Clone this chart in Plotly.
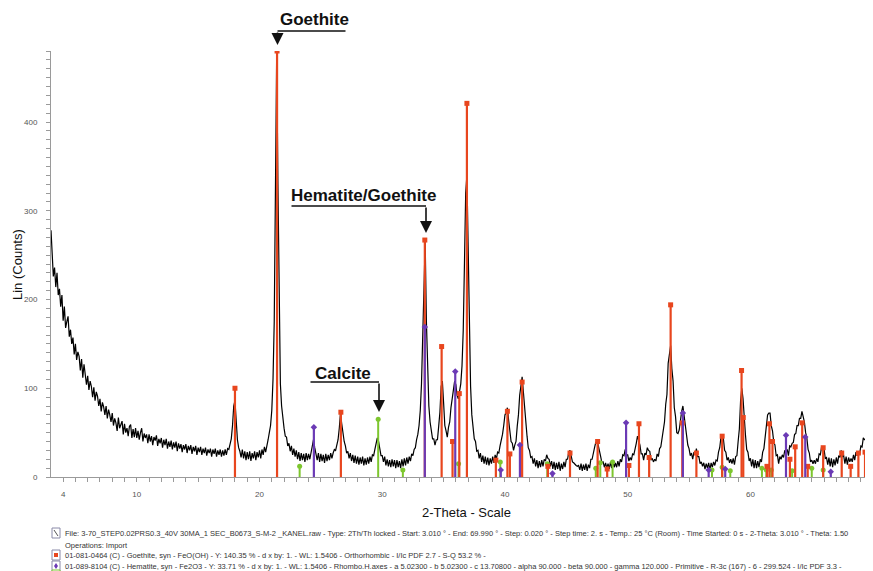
import plotly.graph_objects as go

# ---------------- data ----------------
two_theta = [
    3.01, 3.1, 3.2, 3.3, 3.4, 3.5, 3.6, 3.7, 3.8, 3.9,
    4.0, 4.1, 4.2, 4.3, 4.4, 4.5, 4.6, 4.7, 4.8, 4.9,
    5.0, 5.1, 5.2, 5.3, 5.4, 5.5, 5.6, 5.7, 5.8, 5.9,
    6.0, 6.1, 6.2, 6.3, 6.4, 6.5, 6.6, 6.7, 6.8, 6.9,
    7.0, 7.1, 7.2, 7.3, 7.4, 7.5, 7.6, 7.7, 7.8, 7.9,
    8.0, 8.1, 8.2, 8.3, 8.4, 8.5, 8.6, 8.7, 8.8, 8.9,
    9.0, 9.1, 9.2, 9.3, 9.4, 9.5, 9.6, 9.7, 9.8, 9.9,
    10.0, 10.1, 10.2, 10.3, 10.4, 10.5, 10.6, 10.7, 10.8, 10.9,
    11.0, 11.1, 11.2, 11.3, 11.4, 11.5, 11.6, 11.7, 11.8, 11.9,
    12.0, 12.1, 12.2, 12.3, 12.4, 12.5, 12.6, 12.7, 12.8, 12.9,
    13.0, 13.1, 13.2, 13.3, 13.4, 13.5, 13.6, 13.7, 13.8, 13.9,
    14.0, 14.1, 14.2, 14.3, 14.4, 14.5, 14.6, 14.7, 14.8, 14.9,
    15.0, 15.1, 15.2, 15.3, 15.4, 15.5, 15.6, 15.7, 15.8, 15.9,
    16.0, 16.1, 16.2, 16.3, 16.4, 16.5, 16.6, 16.7, 16.8, 16.9,
    17.0, 17.1, 17.2, 17.3, 17.4, 17.5, 17.6, 17.7, 17.8, 17.9,
    18.0, 18.1, 18.2, 18.3, 18.4, 18.5, 18.6, 18.7, 18.8, 18.9,
    19.0, 19.1, 19.2, 19.3, 19.4, 19.5, 19.6, 19.7, 19.8, 19.9,
    20.0, 20.1, 20.2, 20.3, 20.4, 20.5, 20.6, 20.7, 20.8, 20.9,
    21.0, 21.1, 21.2, 21.3, 21.4, 21.5, 21.6, 21.7, 21.8, 21.9,
    22.0, 22.1, 22.2, 22.3, 22.4, 22.5, 22.6, 22.7, 22.8, 22.9,
    23.0, 23.1, 23.2, 23.3, 23.4, 23.5, 23.6, 23.7, 23.8, 23.9,
    24.0, 24.1, 24.2, 24.3, 24.4, 24.5, 24.6, 24.7, 24.8, 24.9,
    25.0, 25.1, 25.2, 25.3, 25.4, 25.5, 25.6, 25.7, 25.8, 25.9,
    26.0, 26.1, 26.2, 26.3, 26.4, 26.5, 26.6, 26.7, 26.8, 26.9,
    27.0, 27.1, 27.2, 27.3, 27.4, 27.5, 27.6, 27.7, 27.8, 27.9,
    28.0, 28.1, 28.2, 28.3, 28.4, 28.5, 28.6, 28.7, 28.8, 28.9,
    29.0, 29.1, 29.2, 29.3, 29.4, 29.5, 29.6, 29.7, 29.8, 29.9,
    30.0, 30.1, 30.2, 30.3, 30.4, 30.5, 30.6, 30.7, 30.8, 30.9,
    31.0, 31.1, 31.2, 31.3, 31.4, 31.5, 31.6, 31.7, 31.8, 31.9,
    32.0, 32.1, 32.2, 32.3, 32.4, 32.5, 32.6, 32.7, 32.8, 32.9,
    33.0, 33.1, 33.2, 33.3, 33.4, 33.5, 33.6, 33.7, 33.8, 33.9,
    34.0, 34.1, 34.2, 34.3, 34.4, 34.5, 34.6, 34.7, 34.8, 34.9,
    35.0, 35.1, 35.2, 35.3, 35.4, 35.5, 35.6, 35.7, 35.8, 35.9,
    36.0, 36.1, 36.2, 36.3, 36.4, 36.5, 36.6, 36.7, 36.8, 36.9,
    37.0, 37.1, 37.2, 37.3, 37.4, 37.5, 37.6, 37.7, 37.8, 37.9,
    38.0, 38.1, 38.2, 38.3, 38.4, 38.5, 38.6, 38.7, 38.8, 38.9,
    39.0, 39.1, 39.2, 39.3, 39.4, 39.5, 39.6, 39.7, 39.8, 39.9,
    40.0, 40.1, 40.2, 40.3, 40.4, 40.5, 40.6, 40.7, 40.8, 40.9,
    41.0, 41.1, 41.2, 41.3, 41.4, 41.5, 41.6, 41.7, 41.8, 41.9,
    42.0, 42.1, 42.2, 42.3, 42.4, 42.5, 42.6, 42.7, 42.8, 42.9,
    43.0, 43.1, 43.2, 43.3, 43.4, 43.5, 43.6, 43.7, 43.8, 43.9,
    44.0, 44.1, 44.2, 44.3, 44.4, 44.5, 44.6, 44.7, 44.8, 44.9,
    45.0, 45.1, 45.2, 45.3, 45.4, 45.5, 45.6, 45.7, 45.8, 45.9,
    46.0, 46.1, 46.2, 46.3, 46.4, 46.5, 46.6, 46.7, 46.8, 46.9,
    47.0, 47.1, 47.2, 47.3, 47.4, 47.5, 47.6, 47.7, 47.8, 47.9,
    48.0, 48.1, 48.2, 48.3, 48.4, 48.5, 48.6, 48.7, 48.8, 48.9,
    49.0, 49.1, 49.2, 49.3, 49.4, 49.5, 49.6, 49.7, 49.8, 49.9,
    50.0, 50.1, 50.2, 50.3, 50.4, 50.5, 50.6, 50.7, 50.8, 50.9,
    51.0, 51.1, 51.2, 51.3, 51.4, 51.5, 51.6, 51.7, 51.8, 51.9,
    52.0, 52.1, 52.2, 52.3, 52.4, 52.5, 52.6, 52.7, 52.8, 52.9,
    53.0, 53.1, 53.2, 53.3, 53.4, 53.5, 53.6, 53.7, 53.8, 53.9,
    54.0, 54.1, 54.2, 54.3, 54.4, 54.5, 54.6, 54.7, 54.8, 54.9,
    55.0, 55.1, 55.2, 55.3, 55.4, 55.5, 55.6, 55.7, 55.8, 55.9,
    56.0, 56.1, 56.2, 56.3, 56.4, 56.5, 56.6, 56.7, 56.8, 56.9,
    57.0, 57.1, 57.2, 57.3, 57.4, 57.5, 57.6, 57.7, 57.8, 57.9,
    58.0, 58.1, 58.2, 58.3, 58.4, 58.5, 58.6, 58.7, 58.8, 58.9,
    59.0, 59.1, 59.2, 59.3, 59.4, 59.5, 59.6, 59.7, 59.8, 59.9,
    60.0, 60.1, 60.2, 60.3, 60.4, 60.5, 60.6, 60.7, 60.8, 60.9,
    61.0, 61.1, 61.2, 61.3, 61.4, 61.5, 61.6, 61.7, 61.8, 61.9,
    62.0, 62.1, 62.2, 62.3, 62.4, 62.5, 62.6, 62.7, 62.8, 62.9,
    63.0, 63.1, 63.2, 63.3, 63.4, 63.5, 63.6, 63.7, 63.8, 63.9,
    64.0, 64.1, 64.2, 64.3, 64.4, 64.5, 64.6, 64.7, 64.8, 64.9,
    65.0, 65.1, 65.2, 65.3, 65.4, 65.5, 65.6, 65.7, 65.8, 65.9,
    66.0, 66.1, 66.2, 66.3, 66.4, 66.5, 66.6, 66.7, 66.8, 66.9,
    67.0, 67.1, 67.2, 67.3, 67.4, 67.5, 67.6, 67.7, 67.8, 67.9,
    68.0, 68.1, 68.2, 68.3, 68.4, 68.5, 68.6, 68.7, 68.8, 68.9,
    69.0, 69.1, 69.2, 69.3, 69.4, 69.5, 69.6, 69.7, 69.8, 69.9,
    69.99,
]
counts = [
    278, 250, 226, 236, 214, 230, 205, 212, 192, 205,
    176, 192, 168, 175, 181, 158, 166, 150, 157, 138,
    150, 132, 141, 136, 120, 133, 112, 127, 118, 104,
    114, 98, 108, 102, 90, 101, 86, 96, 91, 80,
    88, 74, 84, 79, 70, 80, 66, 76, 70, 62,
    72, 58, 66, 61, 52, 67, 55, 60, 63, 48,
    60, 50, 55, 46, 57, 59, 44, 54, 45, 55,
    44, 52, 42, 50, 55, 40, 49, 44, 48, 38,
    48, 40, 46, 36, 45, 41, 47, 35, 43, 38,
    44, 33, 42, 36, 43, 32, 40, 34, 41, 31,
    39, 33, 40, 29, 38, 32, 37, 28, 36, 31,
    37, 27, 35, 30, 36, 26, 34, 29, 35, 25,
    33, 28, 34, 25, 32, 27, 33, 24, 31, 27,
    32, 23, 31, 26, 32, 23, 30, 25, 31, 23,
    30, 24, 31, 25, 32, 31, 37, 43, 58, 80,
    86, 60, 42, 33, 29, 22, 31, 21, 29, 19,
    28, 20, 29, 18, 27, 21, 29, 19, 28, 22,
    30, 21, 31, 25, 34, 28, 38, 42, 50, 58,
    75, 110, 175, 300, 478, 330, 175, 105, 80, 64,
    55, 46, 45, 35, 38, 29, 35, 25, 32, 23,
    30, 20, 28, 18, 27, 19, 26, 17, 27, 19,
    26, 20, 29, 34, 42, 33, 27, 19, 27, 17,
    26, 18, 25, 16, 26, 18, 25, 19, 27, 21,
    27, 31, 30, 36, 42, 55, 72, 60, 46, 40,
    35, 27, 29, 21, 27, 18, 25, 16, 24, 15,
    23, 14, 22, 15, 23, 13, 21, 14, 22, 15,
    23, 17, 25, 24, 31, 36, 44, 40, 31, 24,
    24, 17, 23, 13, 20, 12, 19, 11, 20, 12,
    19, 10, 19, 11, 18, 10, 20, 12, 21, 13,
    22, 15, 23, 18, 26, 24, 31, 33, 42, 48,
    58, 75, 105, 160, 235, 265, 175, 110, 80, 62,
    54, 43, 43, 36, 42, 42, 57, 73, 102, 108,
    84, 58, 52, 45, 56, 62, 78, 88, 104, 108,
    104, 92, 88, 95, 105, 125, 165, 240, 320, 340,
    260, 160, 102, 70, 58, 43, 40, 29, 30, 21,
    27, 17, 24, 15, 23, 14, 22, 13, 21, 15,
    23, 16, 25, 20, 28, 27, 35, 40, 48, 58,
    70, 73, 78, 64, 54, 40, 38, 30, 36, 40,
    57, 70, 92, 103, 113, 96, 78, 56, 46, 33,
    30, 22, 23, 15, 21, 12, 19, 10, 18, 11,
    19, 12, 20, 18, 25, 21, 20, 12, 18, 9,
    17, 8, 16, 9, 17, 7, 15, 9, 17, 11,
    20, 20, 28, 30, 25, 17, 16, 14, 13, 12,
    13, 8, 15, 7, 14, 8, 15, 7, 14, 10,
    20, 20, 28, 33, 39, 40, 36, 27, 23, 16,
    17, 11, 16, 10, 15, 9, 17, 10, 18, 11,
    16, 11, 18, 12, 20, 17, 25, 24, 31, 25,
    25, 18, 22, 19, 26, 25, 34, 38, 46, 41,
    36, 26, 26, 19, 27, 25, 33, 30, 29, 19,
    21, 17, 20, 18, 26, 23, 32, 34, 43, 48,
    62, 82, 93, 128, 136, 148, 122, 108, 78, 68,
    50, 49, 53, 68, 74, 80, 68, 60, 42, 36,
    32, 24, 27, 20, 28, 25, 32, 23, 23, 15,
    17, 12, 16, 9, 15, 10, 16, 8, 16, 11,
    17, 13, 19, 18, 28, 33, 45, 48, 43, 30,
    28, 19, 22, 16, 20, 15, 21, 14, 23, 24,
    40, 54, 86, 100, 88, 62, 47, 31, 28, 18,
    21, 12, 20, 10, 19, 10, 18, 11, 20, 17,
    28, 32, 47, 56, 70, 72, 72, 58, 52, 40,
    36, 24, 25, 15, 23, 20, 25, 22, 30, 28,
    31, 24, 35, 34, 38, 39, 48, 49, 58, 58,
    66, 66, 74, 68, 62, 50, 44, 31, 27, 17,
    19, 15, 19, 15, 21, 17, 26, 25, 34, 31,
    32, 21, 22, 14, 22, 12, 21, 11, 20, 13,
    22, 15, 24, 22, 30, 23, 24, 15, 23, 14,
    22, 17, 21, 17, 25, 19, 28, 24, 29, 26,
    35, 34, 44, 42, 42, 31, 31, 23, 26, 21,
    22,
]

goethite_pos = [18.0, 21.43, 26.63, 33.47, 34.84, 35.73, 36.28, 36.9, 39.26, 40.2, 40.4, 41.4, 43.5,
                45.3, 47.55, 48.33, 50.1, 50.92, 51.75, 53.5, 54.45, 55.6, 57.7, 59.28, 59.42, 61.35,
                61.55, 61.8, 63.22, 63.65, 64.22, 64.67, 65.93, 67.44, 68.17, 68.8, 69.34]
goethite_h = [100, 480, 73, 267, 147, 40, 94, 421, 19, 74, 26, 107, 12,
              27, 40, 9, 13, 60, 22, 194, 61, 27, 46, 120, 67, 12,
              60, 40, 20, 34, 61, 12, 33, 27, 12, 27, 28]

hematite_pos = [24.43, 33.47, 35.95, 39.66, 41.22, 43.87, 49.87, 54.5, 56.6, 57.95, 62.9, 64.47, 66.55]
hematite_h = [56, 169, 119, 8, 36, 4, 61, 72, 8, 9, 47, 45, 6]

calcite_pos = [23.27, 29.67, 31.68, 36.22, 39.62, 43.45, 47.4, 47.77, 48.77, 56.87, 57.7, 58.36,
               60.94, 61.3, 61.7, 63.4, 65.0, 65.93, 69.5]
calcite_h = [12, 65, 8, 15, 17, 15, 10, 16, 17, 8, 11, 7, 10, 8, 8, 7, 10, 8, 7]

x_tick_values = [4, 10, 20, 30, 40, 50, 60]
y_tick_values = [0, 100, 200, 300, 400]

footer_lines = [
    "File: 3-70_STEP0.02PRS0.3_40V 30MA_1 SEC_B0673_S-M-2 _KANEL.raw - Type: 2Th/Th locked - Start: 3.010 ° - End: 69.990 ° - Step: 0.020 ° - Step time: 2. s - Temp.: 25 °C (Room) - Time Started: 0 s - 2-Theta: 3.010 ° - Theta: 1.50",
    "Operations: Import",
    "01-081-0464 (C) - Goethite, syn - FeO(OH) - Y: 140.35 % - d x by: 1. - WL: 1.5406 - Orthorhombic - I/Ic PDF 2.7 - S-Q 53.2 % -",
    "01-089-8104 (C) - Hematite, syn - Fe2O3 - Y: 33.71 % - d x by: 1. - WL: 1.5406 - Rhombo.H.axes - a 5.02300 - b 5.02300 - c 13.70800 - alpha 90.000 - beta 90.000 - gamma 120.000 - Primitive - R-3c (167) - 6 - 299.524 - I/Ic PDF 3.3 -",
]

# ---------------- figure ----------------
RED = "#E8461E"
PURPLE = "#6B3AB5"
GREEN = "#7DC62E"
FONT = "Arial, Liberation Sans, sans-serif"

# page has an 8px body margin; plot area in page pixels: x 51..873, y 51..477
W, H = 865, 563
ML, MR, MT, MB = 43, 0, 43, 94
PL, PR, PT, PB = 51, 873, 51, 477


def px(xp):
    return (xp - PL) / (PR - PL)


def py(yp):
    return (PB - yp) / (PB - PT)


def sticks(pos, hts):
    xs, ys = [], []
    for p, h in zip(pos, hts):
        xs += [p, p, None]
        ys += [0, h, None]
    return xs, ys


fig = go.Figure()

fig.add_trace(go.Scatter(x=two_theta, y=counts, mode="lines",
                         line=dict(color="black", width=1.2), hoverinfo="skip"))

for pos, hts, col, wid, sym, size in [
    (calcite_pos, calcite_h, GREEN, 2, "circle", 5),
    (goethite_pos, goethite_h, RED, 2.2, "square", 5),
    (hematite_pos, hematite_h, PURPLE, 2.2, "diamond", 5),
]:
    xs, ys = sticks(pos, hts)
    fig.add_trace(go.Scatter(x=xs, y=ys, mode="lines", line=dict(color=col, width=wid),
                             hoverinfo="skip"))
    fig.add_trace(go.Scatter(x=pos, y=hts, mode="markers",
                             marker=dict(color=col, symbol=sym, size=size), hoverinfo="skip"))

annotations = []

# labelled elbow arrows, positions in page pixels:
# (label, text x, text y, arrow x, line y, tip y, line start x)
for label, tx, ty, ax_, ly, tipy, lx0 in [
    ("Goethite", 314, 20, 277.5, 31, 45, 347),
    ("Hematite/Goethite", 363, 195, 426, 206, 233, 290),
    ("Calcite", 343, 373, 379, 382, 412, 309),
]:
    annotations.append(dict(x=px(tx), y=py(ty), xref="paper", yref="paper",
                            text="<b>%s</b>" % label, showarrow=False,
                            xanchor="center", yanchor="middle",
                            font=dict(family=FONT, size=17, color="#111")))
    annotations.append(dict(x=px(ax_), y=py(ly), xref="paper", yref="paper",
                            ax=lx0 - ax_, ay=0, text="", showarrow=True, arrowhead=0,
                            arrowwidth=1.6, arrowcolor="#111", standoff=0, startstandoff=0))
    annotations.append(dict(x=px(ax_), y=py(tipy), xref="paper", yref="paper",
                            ax=0, ay=ly - tipy, text="", showarrow=True, arrowhead=2,
                            arrowsize=1.5, arrowwidth=1.6, arrowcolor="#111",
                            standoff=0, startstandoff=0))

# axis titles
annotations.append(dict(x=px(17), y=py(265), xref="paper", yref="paper", text="Lin (Counts)",
                        textangle=-90, showarrow=False, xanchor="center", yanchor="middle",
                        font=dict(family=FONT, size=13, color="#111")))
annotations.append(dict(x=px(466), y=py(512), xref="paper", yref="paper", text="2-Theta - Scale",
                        showarrow=False, xanchor="center", yanchor="middle",
                        font=dict(family=FONT, size=13, color="#111")))

# footer lines
for txt, xp, yp in [
    (footer_lines[0], 63, 533),
    (footer_lines[1], 63, 545),
    (footer_lines[2], 63, 555),
    (footer_lines[3], 63, 566),
]:
    annotations.append(dict(x=px(xp), y=py(yp), xref="paper", yref="paper", text=txt,
                            xanchor="left", yanchor="middle", showarrow=False,
                            font=dict(family=FONT, size=7.5, color="#333")))

shapes = []
for yp, col, sym in [(533, "#777", "chk"), (555, RED, "sq"), (566, PURPLE, "dia")]:
    shapes.append(dict(type="rect", xref="paper", yref="paper",
                       x0=px(52), x1=px(60), y0=py(yp + 5), y1=py(yp - 5),
                       line=dict(color="#8a8aa8", width=1), fillcolor="white"))
    if sym == "sq":
        shapes.append(dict(type="rect", xref="paper", yref="paper",
                           x0=px(54), x1=px(58), y0=py(yp + 2), y1=py(yp - 2),
                           line=dict(color=col, width=0), fillcolor=col))
    elif sym == "dia":
        shapes.append(dict(type="path", xref="paper", yref="paper",
                           path="M %f %f L %f %f L %f %f L %f %f Z" % (
                               px(56), py(yp - 3), px(58), py(yp), px(56), py(yp + 3), px(54), py(yp)),
                           line=dict(color=col, width=0), fillcolor=col))
    else:
        shapes.append(dict(type="line", xref="paper", yref="paper",
                           x0=px(54), x1=px(58), y0=py(yp - 3), y1=py(yp + 3),
                           line=dict(color="#555", width=1)))
shapes.append(dict(type="rect", xref="paper", yref="paper",
                   x0=px(52), x1=px(60), y0=py(578), y1=py(570),
                   line=dict(color=GREEN, width=1), fillcolor="white"))

x_minor = list(range(3, 70))
y_minor = list(range(0, 481, 10))

fig.update_layout(
    width=W, height=H,
    margin=dict(l=ML, r=MR, t=MT, b=MB),
    paper_bgcolor="white", plot_bgcolor="white",
    showlegend=False,
    font=dict(family=FONT),
    annotations=annotations,
    shapes=shapes,
    xaxis=dict(range=[3.01, 69.99], showgrid=False, zeroline=False,
               showline=True, linecolor="#9a9a9a", linewidth=1,
               tickmode="array", tickvals=x_minor,
               ticktext=[str(v) if v in x_tick_values else "" for v in x_minor],
               ticks="outside", ticklen=4, tickcolor="#9a9a9a", tickwidth=1,
               ticklabelstandoff=5,
               tickfont=dict(family=FONT, size=8, color="#555")),
    yaxis=dict(range=[0, 480], showgrid=False, zeroline=False,
               showline=True, linecolor="#9a9a9a", linewidth=1,
               tickmode="array", tickvals=y_minor,
               ticktext=[str(v) if v in y_tick_values else "" for v in y_minor],
               ticks="outside", ticklen=4, tickcolor="#9a9a9a", tickwidth=1,
               ticklabelstandoff=7,
               tickfont=dict(family=FONT, size=8, color="#555")),
)

fig.write_html("out.html")
